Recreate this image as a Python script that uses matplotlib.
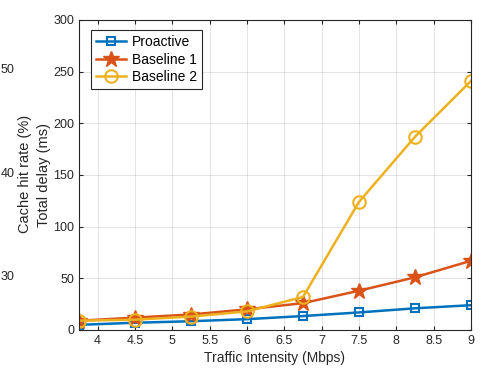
import numpy as np
import matplotlib.pyplot as plt

plt.rcParams['font.family'] = ['Liberation Sans', 'DejaVu Sans']

traffic = [3.75, 4.5, 5.25, 6.0, 6.75, 7.5, 8.25, 9.0]
proactive = [5, 7, 8.5, 10.5, 13.5, 17, 21, 24]
baseline1 = [9, 12, 15, 20, 26, 38, 51, 67]
baseline2 = [9, 10, 13, 18, 32, 124, 187, 241]

# stray labels from a neighbouring panel
ghost_ticks = ['50', '40', '30']
ghost_y = [70, 174, 277]

fig = plt.figure(figsize=(4.97, 3.72), dpi=100)
ax = fig.add_axes([79 / 497, 42 / 372, 392 / 497, 310 / 372])

ax.plot(traffic, proactive, color='#0072BD', lw=1.8, marker='s', ms=6,
        mfc='none', mew=1.5, label='Proactive')
ax.plot(traffic, baseline1, color='#D95319', lw=1.8, marker='*', ms=12,
        mfc='#D95319', mew=1, label='Baseline 1')
ax.plot(traffic, baseline2, color='#EDB120', lw=1.8, marker='o', ms=9,
        mfc='none', mew=1.5, label='Baseline 2')

ax.set_xlim(3.75, 9)
ax.set_ylim(0, 300)
ax.set_xticks(np.arange(4, 9.01, 0.5))
ax.set_xticklabels(['4', '4.5', '5', '5.5', '6', '6.5', '7', '7.5', '8', '8.5', '9'])
ax.set_yticks(np.arange(0, 301, 50))
ax.tick_params(direction='in', labelsize=9, colors='#262626', length=3,
               top=True, right=True, labeltop=False, labelright=False)
ax.grid(True, color='#262626', alpha=0.15, lw=0.6)
for s in ax.spines.values():
    s.set_color('#262626')
    s.set_linewidth(0.8)

ax.set_xlabel('Traffic Intensity (Mbps)', fontsize=10, color='#262626', labelpad=3)
ax.set_ylabel('Total delay (ms)', fontsize=10.5, color='#262626')
ax.yaxis.set_label_coords((51 - 79) / 392, (330 - 175) / 310)

leg = ax.legend(loc='upper left', bbox_to_anchor=(0.02, 0.98), fontsize=10,
                fancybox=False, edgecolor='#262626', framealpha=1,
                handlelength=2.2, borderpad=0.35, labelspacing=0.25,
                handletextpad=0.4, borderaxespad=0.3)
leg.get_frame().set_linewidth(0.8)

fig.text(25 / 497, 1 - 174 / 372, 'Cache hit rate (%)', rotation=90,
         ha='center', va='center', fontsize=10.5, color='#262626')
for lab, yy in zip(ghost_ticks, ghost_y):
    fig.text(1 / 497, 1 - yy / 372, lab, ha='left', va='center',
             fontsize=9, color='#262626')

fig.savefig('out.png', dpi=100)
